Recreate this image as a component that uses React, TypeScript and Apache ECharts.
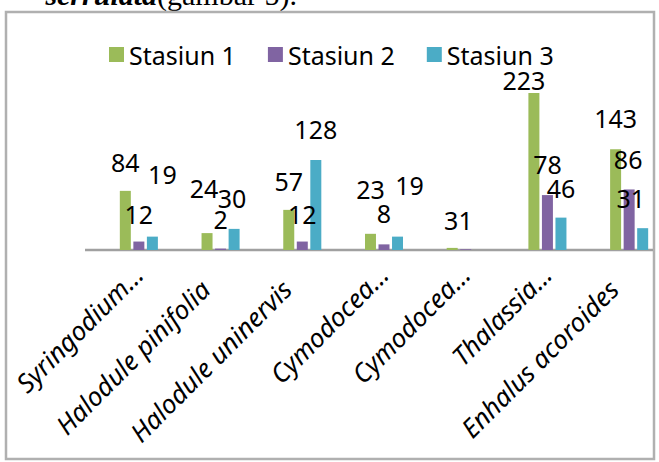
import React, { useEffect, useRef } from "react";
import * as echarts from "echarts";

// Seagrass counts per species at three stations
const categories = [
  "Syringodium...",
  "Halodule pinifolia",
  "Halodule uninervis",
  "Cymodocea...",
  "Cymodocea...",
  "Thalassia...",
  "Enhalus acoroides",
];
const seriesNames = ["Stasiun 1", "Stasiun 2", "Stasiun 3"];
const stasiun1 = [84, 24, 57, 23, 3, 223, 143];
const stasiun2 = [12, 2, 12, 8, 1, 78, 86];
const stasiun3 = [19, 30, 128, 19, 0, 46, 31];

const colors = ["#9BBB59", "#8064A2", "#4BACC6"];

// Per-bar nudges [dx, dy] of each value label from the bar's top centre
const labelShift1 = [[0, -29], [-3, -45], [0, -29], [0, -45], [-1, -28], [-10, -13], [0, -31]];
const labelShift2 = [[0, -28], [0, -30], [0, -28], [0, -31], [0, -29], [0, -31], [-1, -30]];
const labelShift3 = [[10, -63], [-2, -31], [0, -31], [12, -52], [0, -30], [0, -30], [-12, -30]];

// Padding [top, right, bottom, left] around each rotated category name
const labelPad = [
  [0, 1, 10, 0],
  [0, 22, 0, 0],
  [0, 22, 0, 0],
  [0, 1, 10, 0],
  [0, 1, 10, 0],
  [0, 1, 10, 0],
  [0, 22, 0, 0],
];

const FONT = "Noto Sans";

function makeSeries(name: string, values: number[], shifts: number[][], color: string) {
  return {
    name,
    type: "bar",
    barWidth: 11,
    barGap: "23%",
    itemStyle: { color },
    data: values.map((v, i) => ({
      value: v,
      label: { show: v > 0, offset: shifts[i] },
    })),
    label: {
      show: true,
      position: "top",
      distance: 0,
      verticalAlign: "middle",
      align: "center",
      fontSize: 25,
      fontFamily: FONT,
      color: "#000",
    },
  };
}

export default function App() {
  const ref = useRef<HTMLDivElement>(null);

  useEffect(() => {
    if (!ref.current) return;
    const chart = echarts.init(ref.current, null, { renderer: "svg" });
    chart.setOption({
      animation: false,
      backgroundColor: "#fff",
      grid: {
        left: 98,
        top: 74,
        width: 572,
        height: 176,
        outerBoundsMode: "none",
        containLabel: false,
      },
      legend: {
        data: seriesNames,
        icon: "rect",
        itemWidth: 15,
        itemHeight: 15,
        itemGap: 32,
        left: 104,
        top: 37,
        textStyle: { fontSize: 25, fontFamily: FONT, color: "#000" },
      },
      xAxis: {
        type: "category",
        data: categories.map((c, i) => ({
          value: c,
          textStyle: { padding: labelPad[i] },
        })),
        axisLine: { show: false },
        axisTick: { show: false },
        axisLabel: {
          interval: 0,
          rotate: 45,
          margin: 19,
          fontSize: 26,
          fontStyle: "italic",
          fontFamily: FONT,
          color: "#000",
        },
      },
      yAxis: {
        type: "value",
        min: 0,
        max: 250,
        show: false,
        splitLine: { show: false },
      },
      graphic: [
        {
          type: "text",
          x: 297,
          y: 9,
          style: {
            text: "{i|serrulata}(gambar 5).",
            align: "right",
            verticalAlign: "bottom",
            fontSize: 30,
            fontFamily: "Liberation Serif",
            fill: "#000",
            rich: {
              i: {
                fontSize: 30,
                fontFamily: "Liberation Serif",
                fontStyle: "italic",
                fontWeight: "bold",
              },
            },
          },
        },
        {
          type: "rect",
          shape: { x: 6, y: 12, width: 648, height: 447 },
          style: { fill: "none", stroke: "#b0b0b0", lineWidth: 2.5 },
        },
        {
          type: "line",
          shape: { x1: 85, y1: 250, x2: 653, y2: 250 },
          style: { stroke: "#a0a0a0", lineWidth: 2.5 },
        },
      ],
      series: [
        makeSeries(seriesNames[0], stasiun1, labelShift1, colors[0]),
        makeSeries(seriesNames[1], stasiun2, labelShift2, colors[1]),
        makeSeries(seriesNames[2], stasiun3, labelShift3, colors[2]),
      ],
    });
    return () => chart.dispose();
  }, []);

  return (
    <div
      ref={ref}
      style={{ position: "fixed", left: 0, top: 0, width: 659, height: 462, background: "#fff" }}
    />
  );
}
